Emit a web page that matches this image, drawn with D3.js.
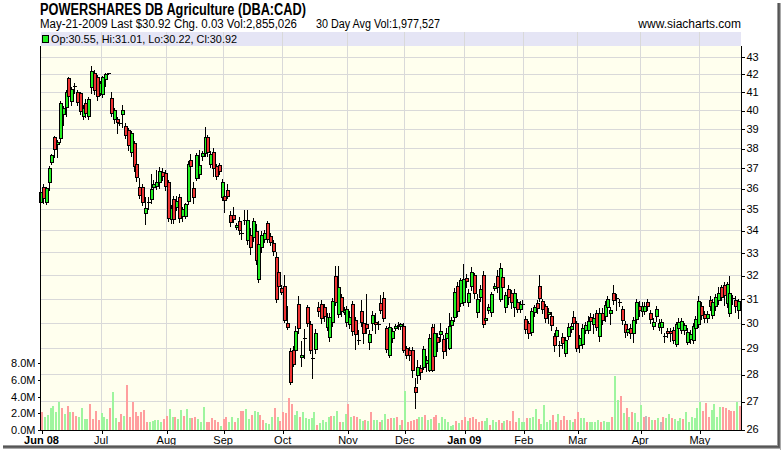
<!DOCTYPE html>
<html><head><meta charset="utf-8">
<script src="https://cdn.jsdelivr.net/npm/d3@7"></script>
<style>body{margin:0;background:#fff}svg{display:block}</style>
</head><body>
<svg id="c" width="784" height="450"></svg>
<script>
// ---------- DATA ----------
const monthLabels = ["Jun 08","Jul","Aug","Sep","Oct","Nov","Dec","Jan 09","Feb","Mar","Apr","May"];
const monthStartIdx = [0,21,44,64,85,108,128,149,170,189,211,232];
const boldMonthLabels = ["Jun 08","Jan 09"];
const priceTicks = [26,27,28,29,30,31,32,33,34,35,36,37,38,39,40,41,42,43];
const volumeTicks = [0,2,4,6,8]; // millions

// daily [open, high, low, close]
const ohlc = [
[35.32,36.35,35.24,35.80],[36.07,36.2,35.3,35.51],[35.35,36.05,35.25,35.99],[36.29,37.1,35.91,36.98],[37.28,37.72,37.2,37.63],
[38.56,38.62,37.56,37.93],[38.2,38.41,37.56,38.3],[38.5,40.5,38.3,40.37],[39.78,40.2,39.2,40.1],[40.19,41.08,39.7,40.97],
[41.75,41.85,40.45,40.77],[40.51,41.25,40.3,41.14],[41.28,41.49,40.94,41.3],[41.0,41.1,40.3,40.43],[40.92,41.0,39.8,39.95],
[39.69,40.25,39.5,40.1],[40.37,40.6,39.6,39.83],[39.7,40.7,39.52,40.59],[41.25,42.45,40.95,42.18],[42.07,42.25,40.9,41.1],
[41.84,41.95,40.55,40.77],
[40.92,41.6,40.8,41.47],[40.86,41.9,40.7,41.81],[41.7,42.05,41.3,41.99],[42.0,42.08,41.97,42.03],[40.65,40.98,39.7,39.83],
[39.51,40.1,39.3,40.0],[39.52,39.6,38.8,39.36],[39.3,39.4,39.2,39.33],[39.78,40.28,39.08,40.01],[39.15,39.3,38.5,38.66],
[38.94,39.05,37.9,38.16],[37.82,38.9,37.6,38.77],[38.24,38.35,36.85,37.09],[37.18,37.3,36.35,36.56],[36.07,36.5,35.5,35.65],
[36.07,36.2,35.2,35.32],[34.82,35.59,34.3,35.03],[35.3,35.59,35.0,35.33],[35.46,36.7,35.3,35.94],[36.07,36.4,35.9,36.19],
[36.1,36.9,35.95,36.29],[36.32,37.05,36.0,36.86],[36.81,37.0,36.4,36.61],[36.76,36.9,35.9,36.1],[36.32,36.4,34.45,34.59],
[34.52,35.2,34.35,35.03],[35.46,35.6,34.35,34.52],[35.1,35.6,34.95,35.39],[35.55,35.7,34.4,34.56],[34.67,35.1,34.45,34.98],
[34.68,35.3,34.55,35.24],[35.39,37.35,35.25,37.18],[37.4,37.7,36.95,37.09],[35.99,36.3,35.3,35.56],[36.48,37.75,36.4,37.63],
[36.69,37.9,36.5,37.13],[37.57,37.85,37.4,37.73],[37.73,39.1,37.6,38.56],[38.56,38.7,37.6,37.78],[37.19,37.85,37.05,37.7],
[37.78,38.0,36.6,36.98],[37.1,37.2,36.45,36.6],[37.14,37.25,36.7,36.86],[35.56,36.45,35.4,36.32],[35.62,35.75,34.85,35.43],
[35.9,36.2,35.5,35.62],[34.7,34.9,34.2,34.38],[34.72,35.1,34.4,34.52],[34.14,34.35,34.05,34.24],[34.44,34.6,33.85,34.02],
[33.87,34.1,33.6,33.9],[34.44,34.95,34.3,34.46],[33.57,34.95,33.4,34.46],[33.77,34.1,32.95,33.25],[33.7,34.55,33.5,34.42],
[33.99,34.3,32.5,32.68],[31.83,33.5,31.7,33.38],[33.23,33.95,33.0,33.79],[33.6,34.0,33.45,33.87],[34.33,34.45,33.45,33.6],
[33.72,33.9,33.35,33.49],[33.42,33.55,32.9,33.07],[32.79,33.0,30.85,30.98],[32.15,32.45,31.2,31.52],[31.44,31.6,31.2,31.3],
[31.54,32.0,30.05,30.13],[29.99,30.7,29.75,29.83],[28.9,29.0,27.63,27.72],[28.93,29.1,28.3,28.39],[28.93,29.9,28.8,29.69],
[30.79,31.1,29.6,29.79],[28.65,29.3,28.3,28.74],[29.38,29.75,28.6,29.4],[30.66,30.75,29.9,30.02],[29.97,30.1,28.8,28.94],
[28.59,29.6,27.87,28.6],[28.96,29.75,28.8,29.6],[30.66,30.85,30.3,30.48],[30.79,30.95,30.0,30.21],[30.66,30.8,30.1,30.28],
[29.86,30.4,29.7,30.26],[29.45,30.4,29.3,30.26],[30.06,31.05,29.9,30.92],[31.97,32.4,30.75,30.88],[30.37,32.4,30.25,31.5],
[31.06,31.2,30.3,30.51],[30.46,30.65,30.35,30.54],[30.06,30.7,29.9,30.58],[29.96,30.5,29.8,30.26],[30.79,30.9,29.5,29.66],
[30.12,30.25,28.95,29.55],[29.3,29.7,29.15,29.32],[30.49,30.95,29.9,30.06],[29.99,30.1,29.2,29.59],[29.96,31.2,29.6,29.79],
[29.25,29.7,28.95,29.57],[30.01,30.5,29.7,30.33],[30.06,30.4,29.6,29.96],[29.94,30.1,29.75,29.95],[30.82,31.15,30.4,30.54],
[31.02,31.3,30.1,30.21],[29.79,29.9,28.85,28.96],[28.74,30.0,28.65,29.83],[29.39,29.8,29.25,29.66],[29.79,29.95,29.7,29.87],
[29.9,30.05,29.75,29.92],[29.88,30.0,29.75,29.95],[29.87,30.0,28.85,28.93],[29.0,29.1,28.6,28.74],[28.94,29.05,28.55,28.72],
[28.93,29.05,27.9,28.15],[27.51,27.86,26.74,27.33],[27.97,28.55,27.68,28.28],[28.22,28.35,27.8,28.09],[28.26,29.1,28.2,28.96],
[28.42,28.7,28.1,28.55],[28.16,29.55,28.1,29.39],[29.85,29.95,28.1,28.16],[28.68,29.95,28.5,29.6],[29.44,29.6,28.9,29.23],
[29.55,30.0,29.3,29.66],[29.36,29.5,28.6,28.87],[29.42,29.78,28.75,29.6],[29.0,30.4,28.95,29.89],[29.92,30.25,29.8,30.11],
[30.25,31.45,30.1,31.3],[31.56,31.7,30.3,30.5],[30.81,31.9,30.7,31.8],[30.86,32.5,30.75,31.85],[31.87,32.05,31.5,31.76],
[30.86,31.4,30.7,31.23],[31.52,32.35,31.35,32.16],[32.02,32.1,31.05,31.23],[30.44,31.2,30.25,30.98],[31.06,31.6,30.9,31.42],
[32.02,32.2,29.85,29.95],[30.11,30.6,30.0,30.2],[30.54,30.8,30.4,30.65],[30.44,31.3,30.3,31.19],[31.45,31.65,31.35,31.52],
[31.98,32.25,31.3,31.5],[30.99,32.55,30.9,32.3],[31.93,32.1,31.3,31.5],[30.65,31.3,30.45,31.16],[31.42,31.6,30.8,31.06],
[31.23,31.35,30.6,30.88],[30.66,31.4,30.3,31.23],[30.86,31.0,30.45,30.58],[30.58,30.9,30.45,30.79],[30.76,30.95,30.6,30.77],
[30.16,30.3,29.6,29.77],[29.99,30.1,29.4,29.59],[29.64,30.6,29.5,30.49],[30.44,30.75,30.3,30.65],[30.82,30.95,30.4,30.61],
[31.54,32.0,30.9,31.02],[30.89,31.0,30.4,30.58],[30.68,30.8,30.05,30.2],[30.38,30.6,30.0,30.45],[30.3,30.45,29.7,29.92],
[29.48,29.6,28.9,29.12],[29.48,29.85,29.3,29.72],[29.12,29.3,28.7,29.13],[29.43,29.6,29.0,29.19],[28.83,29.45,28.7,29.32],
[29.48,30.0,29.35,29.86],[29.75,30.0,29.65,29.88],[30.26,30.5,29.9,30.01],[29.99,30.1,28.9,29.0],[29.12,29.5,28.85,29.4],
[29.15,29.95,29.0,29.79],[29.72,30.05,29.6,29.92],[29.72,30.3,29.6,30.08],[30.24,30.4,29.95,30.1],[29.96,30.35,29.6,30.2],
[30.4,30.55,29.7,29.83],[29.48,30.6,29.3,30.42],[30.42,30.6,29.95,30.12],[30.28,30.9,30.1,30.74],[30.66,31.1,30.5,30.98],
[30.4,30.65,29.95,30.54],[31.23,31.6,30.8,30.95],[31.0,31.2,30.55,31.02],[30.87,31.0,30.7,30.88],[30.56,30.7,29.95,30.12],
[29.96,30.1,29.45,29.62],[29.62,29.9,29.5,29.75],[29.79,29.95,29.4,29.59],[29.59,30.25,29.25,30.12],[30.15,31.0,30.0,30.85],
[30.68,30.9,30.3,30.54],[30.48,30.85,30.3,30.68],[30.48,30.85,30.35,30.71],[30.88,31.0,30.55,30.71],[30.4,30.55,30.0,30.15],
[29.88,30.2,29.75,30.05],[30.28,30.7,30.1,30.56],[29.86,30.15,29.7,30.01],[29.86,30.15,29.6,30.05],[29.47,29.6,29.25,29.48],
[29.69,29.8,29.45,29.61],[29.69,29.8,29.3,29.6],[29.72,29.85,29.2,29.32],[29.15,30.05,29.1,29.96],[29.8,30.2,29.55,30.05],
[29.72,30.2,29.6,30.08],[29.72,30.0,29.55,29.92],[29.25,29.8,29.15,29.65],[29.35,29.7,29.2,29.55],[29.32,30.0,29.2,29.88],
[29.8,30.3,29.7,30.16],[29.96,31.1,29.85,30.92],[30.68,30.85,30.15,30.34],[30.36,30.5,30.05,30.2],[30.21,30.5,30.05,30.37],
[30.95,31.1,30.55,30.71],[30.33,31.0,30.2,30.88],[30.68,31.2,30.55,31.09],[30.95,31.5,30.8,31.23],[31.49,31.6,30.95,31.09],
[31.59,31.7,30.75,31.16],[30.81,31.7,30.65,31.62],[30.4,31.95,30.3,31.23],[31.0,31.15,30.8,31.02],[30.95,31.1,30.45,30.68],
[30.55,31.01,30.22,30.92]
];

// daily volume in millions of shares
const volumes = [
2.2,1.6,1.8,2.6,2.9,2.1,3.3,2.6,1.9,2.9,2.1,2.1,1.7,1.5,2.6,1.3,1.3,3.1,1.3,2.3,1.2,
2.0,1.5,1.3,2.6,4.5,1.4,0.9,1.9,1.7,5.4,1.6,3.4,2.1,1.7,2.2,2.4,0.9,0.9,1.1,1.2,1.2,0.9,1.3,
1.7,2.5,1.6,1.6,1.3,2.4,1.7,2.5,1.4,1.4,1.5,1.3,0.9,2.7,1.0,1.0,1.4,1.2,0.9,0.5,
1.3,1.5,1.0,1.5,1.0,1.4,2.3,2.3,2.5,1.3,1.8,2.3,2.2,1.8,1.2,0.8,0.7,1.5,2.6,1.5,1.1,
2.1,2.0,3.8,3.1,1.8,2.3,1.5,2.1,1.4,1.3,1.4,2.1,0.6,0.8,1.2,0.9,1.5,1.7,1.7,2.3,1.0,0.9,1.9,
3.1,1.5,1.7,1.5,1.3,1.1,1.2,1.1,2.2,1.2,1.2,1.0,1.2,1.9,1.3,1.4,1.4,1.5,0.6,1.2,
4.7,1.0,1.1,1.2,1.3,1.5,1.5,1.8,1.2,1.3,1.6,1.8,0.8,1.6,1.3,1.0,0.5,0.6,1.1,0.8,1.2,
1.5,1.1,1.4,1.5,1.3,1.0,1.1,1.1,1.4,0.6,1.2,0.9,1.2,0.8,1.1,1.2,1.1,2.3,1.0,1.4,1.0,
1.0,1.4,1.4,1.6,2.5,1.3,0.7,3.0,1.0,1.2,1.8,0.9,1.9,1.2,1.7,1.2,1.2,1.0,1.3,
2.1,1.4,1.4,0.9,0.9,1.0,1.0,1.2,1.0,1.1,1.0,1.0,1.5,6.5,3.6,4.1,2.0,2.6,1.6,2.1,2.0,1.0,
3.0,1.6,1.7,1.6,1.2,1.2,1.4,1.0,1.6,1.4,1.9,1.4,1.3,1.1,1.4,1.3,2.2,1.0,1.5,1.4,2.6,
3.3,2.3,3.2,1.6,2.4,3.1,1.6,2.8,2.7,2.6,2.4,2.3,2.3,3.3,2.86
];
// volume bar direction: u = up day, d = down day, n = unchanged
const volumeDirection = (
"duuuuuudududduuuuddd" + "d" +
"uuuduuddudddddddduuuuudd" .slice(0,23) +
"duuduuduudduuudddddu" +
"dduududduuduudduuudud" +
"dddduuduuuuuduuuuduuduu" .slice(0,23) +
"dudduududuuduuddudud".slice(0,20) +
"udddduuduudduuuuuudud".slice(0,21) +
"duddddduuduuddudddduud".slice(0,21) +
"uduuuduuuudduddduudu".slice(0,19) +
"duuduuuuduuuduudududuud".slice(0,22) +
"udndudunduuduuuduuuu".padEnd(21,"u") +
"uddduuuudddddud".slice(0,15)
).split("");

// ---------- CHART ----------
const N = ohlc.length;
const svg = d3.select("#c");
const L = 41, R = 741, T = 46, B = 430;
const FONT = "'Liberation Sans', Arial, Helvetica, sans-serif";
const NARROW = "'Liberation Sans Narrow','Arial Narrow','Liberation Sans',Arial,sans-serif";

const x = d3.scaleLinear().domain([0, N - 1]).range([41, 739]);
const y = d3.scaleLog().domain([26, 43]).range([429, 56.5]);
const yv = d3.scaleLinear().domain([0, 8]).range([430, 363]);

svg.append("rect").attr("width", 784).attr("height", 450).attr("fill", "#fff");

// plot background and legend band
svg.append("rect").attr("x", L).attr("y", T).attr("width", R - L).attr("height", B - T).attr("fill", "#ffffee");
svg.append("rect").attr("x", L).attr("y", 32).attr("width", R - L).attr("height", 14).attr("fill", "#e5e5f5");

// grid
const grid = svg.append("g").attr("stroke", "#d9d9d9").attr("stroke-width", 1).attr("shape-rendering", "crispEdges");
grid.selectAll("line.h").data(priceTicks.filter(p => p > 26)).join("line")
  .attr("x1", L).attr("x2", R)
  .attr("y1", d => Math.round(y(d)) + 0.5).attr("y2", d => Math.round(y(d)) + 0.5);
grid.selectAll("line.v").data(monthStartIdx.slice(1)).join("line")
  .attr("y1", 32).attr("y2", B)
  .attr("x1", d => Math.round(x(d)) + 0.5).attr("x2", d => Math.round(x(d)) + 0.5);

// volume bars
const volColor = { u: "#9ef59e", d: "#ff9e9e", n: "#bdbdbd" };
svg.append("g").attr("shape-rendering", "crispEdges")
  .selectAll("rect").data(volumes).join("rect")
  .attr("x", (d, i) => Math.round(x(i)))
  .attr("width", 2)
  .attr("y", d => Math.round(yv(d)))
  .attr("height", d => B - Math.round(yv(d)))
  .attr("fill", (d, i) => volColor[volumeDirection[i]] || volColor.u);

// candles
const cg = svg.append("g").attr("shape-rendering", "crispEdges");
ohlc.forEach((d, i) => {
  const [o, h, l, c] = d;
  const cx = Math.round(x(i));
  cg.append("line").attr("x1", cx - 0.5).attr("x2", cx - 0.5)
    .attr("y1", Math.round(y(h))).attr("y2", Math.round(y(l)) + 1)
    .attr("stroke", "#000");
  const top = Math.round(y(Math.max(o, c))), bot = Math.round(y(Math.min(o, c)));
  if (bot - top < 2) {
    cg.append("line").attr("x1", cx - 2).attr("x2", cx + 2)
      .attr("y1", top + 0.5).attr("y2", top + 0.5).attr("stroke", "#000");
  } else {
    cg.append("rect").attr("x", cx - 1.5).attr("y", top + 0.5)
      .attr("width", 3).attr("height", bot - top)
      .attr("fill", c >= o ? "#22ee22" : "#ee3333")
      .attr("stroke", "#000").attr("stroke-width", 1);
  }
});

// axes lines
const ax = svg.append("g").attr("stroke", "#000").attr("shape-rendering", "crispEdges");
ax.append("line").attr("x1", L - 0.5).attr("x2", L - 0.5).attr("y1", T).attr("y2", B + 1);
ax.append("line").attr("x1", R + 0.5).attr("x2", R + 0.5).attr("y1", T).attr("y2", B + 1);
ax.append("line").attr("x1", L - 1).attr("x2", R + 1).attr("y1", B + 0.5).attr("y2", B + 0.5);

// right price axis
const ra = svg.append("g").attr("transform", `translate(${R + 0.5},0)`)
  .call(d3.axisRight(y).tickValues(priceTicks).tickFormat(d3.format("d")).tickSize(3).tickPadding(2));
ra.select(".domain").remove();
ra.selectAll("line").attr("shape-rendering", "crispEdges").attr("transform", "translate(0,0.5)");
ra.selectAll("text").attr("font-family", FONT).attr("font-size", 11).attr("fill", "#000");

// left volume axis
const la = svg.append("g").attr("transform", `translate(${L - 0.5},0)`)
  .call(d3.axisLeft(yv).tickValues(volumeTicks).tickFormat(d => d.toFixed(1) + "M").tickSize(3).tickPadding(2));
la.select(".domain").remove();
la.selectAll("line").attr("shape-rendering", "crispEdges");
la.selectAll("text").attr("font-family", FONT).attr("font-size", 11).attr("fill", "#000");

// bottom month axis
const ba = svg.append("g").attr("transform", `translate(0,${B + 0.5})`)
  .call(d3.axisBottom(x).tickValues(monthStartIdx).tickFormat((d, i) => monthLabels[i]).tickSize(3).tickPadding(2));
ba.select(".domain").remove();
ba.selectAll("line").attr("shape-rendering", "crispEdges").attr("transform", d => `translate(${Math.round(x(d)) + 0.5 - x(d)},0)`);
ba.selectAll("text").attr("font-family", FONT).attr("font-size", 11).attr("fill", "#000")
  .attr("y", 13).attr("dy", 0)
  .attr("font-weight", (d, i) => boldMonthLabels.includes(monthLabels[i]) ? "bold" : "normal");

// header texts
const last = ohlc[N - 1];
svg.append("text").attr("x", 40).attr("y", 15).attr("font-family", NARROW).attr("font-weight", "bold")
  .attr("font-size", 16).attr("textLength", 266).attr("lengthAdjust", "spacingAndGlyphs")
  .text("POWERSHARES DB Agriculture (DBA:CAD)");
svg.append("text").attr("x", 40).attr("y", 28).attr("font-family", NARROW).attr("font-size", 12)
  .attr("textLength", 257).attr("lengthAdjust", "spacingAndGlyphs")
  .text("May-21-2009  Last $" + last[3].toFixed(2) + "  Chg. 0.03  Vol:2,855,026");
svg.append("text").attr("x", 316).attr("y", 28).attr("font-family", NARROW).attr("font-size", 12)
  .attr("textLength", 124).attr("lengthAdjust", "spacingAndGlyphs")
  .text("30 Day Avg Vol:1,977,527");
svg.append("text").attr("x", 741).attr("y", 28).attr("text-anchor", "end").attr("font-family", NARROW).attr("font-size", 12)
  .text("www.siacharts.com");

// legend in band
svg.append("rect").attr("x", 42.5).attr("y", 35.5).attr("width", 6).attr("height", 7)
  .attr("fill", "#22ee22").attr("stroke", "#000").attr("shape-rendering", "crispEdges");
svg.append("text").attr("x", 51).attr("y", 43).attr("font-family", NARROW).attr("font-size", 11.5)
  .attr("textLength", 186).attr("lengthAdjust", "spacingAndGlyphs")
  .text(`Op:${last[0].toFixed(2)}, Hi:${last[1].toFixed(2)}, Lo:${last[2].toFixed(2)}, Cl:${last[3].toFixed(2)}`);

// frame shadow
const sh = svg.append("g").attr("shape-rendering", "crispEdges");
[["#999", 0], ["#555", 1], ["#666", 2], ["#aaa", 3]].forEach(([col, k]) => {
  sh.append("rect").attr("x", 777 + k).attr("y", 3).attr("width", 1).attr("height", 447 - 3 + k).attr("fill", col);
  sh.append("rect").attr("x", 3).attr("y", 445 + k).attr("width", 775 + k).attr("height", 1).attr("fill", col);
});
</script>
</body></html>
